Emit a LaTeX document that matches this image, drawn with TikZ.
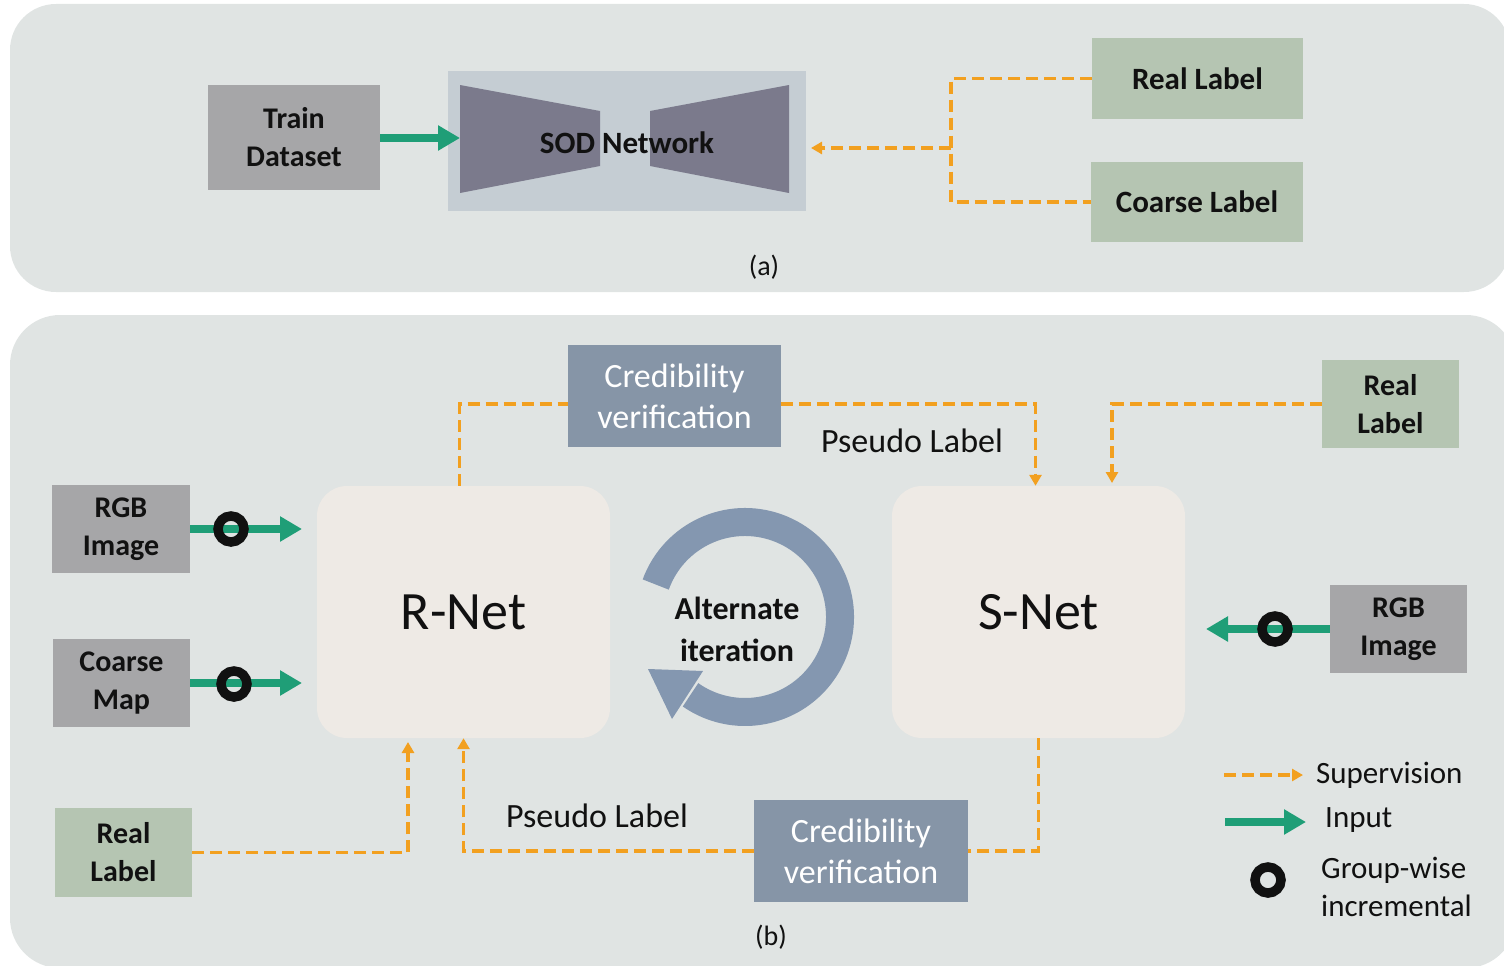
\documentclass[tikz,border=0pt]{standalone}
\usepackage{fontspec}
\setmainfont{Carlito}
\usetikzlibrary{arrows.meta}

\definecolor{panelbg}{RGB}{224,228,227}
\definecolor{graybox}{RGB}{166,166,168}
\definecolor{greenbox}{RGB}{181,197,178}
\definecolor{sodbg}{RGB}{197,205,211}
\definecolor{trapcol}{RGB}{123,122,140}
\definecolor{credcol}{RGB}{134,149,167}
\definecolor{netcol}{RGB}{238,234,229}
\definecolor{supcol}{RGB}{242,160,32}
\definecolor{inputcol}{RGB}{31,158,119}
\definecolor{loopcol}{RGB}{132,151,176}
\definecolor{ink}{RGB}{17,17,17}

\tikzset{
  panel/.style={fill=panelbg, rounded corners=46pt},
  boxbase/.style={inner sep=0pt, align=center, text=ink},
  graybx/.style={boxbase, fill=graybox},
  greenbx/.style={boxbase, fill=greenbox},
  credbx/.style={inner sep=0pt, align=center, fill=credcol, text=white,
    minimum width=213pt, minimum height=102pt,
    font=\fontsize{34}{41}\selectfont},
  netbx/.style={boxbase, fill=netcol, rounded corners=30pt,
    minimum width=293pt, minimum height=252pt,
    font=\fontsize{54}{60}\selectfont},
  boldA/.style={font=\fontsize{31}{38}\selectfont\bfseries},
  boldB/.style={font=\fontsize{30}{38}\selectfont\bfseries},
  plaintxt/.style={inner sep=0pt, text=ink, font=\fontsize{34}{40}\selectfont},
  legtxt/.style={inner sep=0pt, text=ink, align=left, font=\fontsize{31}{38}\selectfont},
  supdash/.style={draw=supcol, line width=3.5pt, dash pattern=on 12pt off 6pt},
  supline/.style={supdash, -{Triangle[length=11pt,width=12pt]}},
  inputline/.style={draw=inputcol, line width=8pt, -{Triangle[length=22pt,width=24pt]}},
  ringmark/.style={circle, draw=ink, line width=9.5pt, minimum size=26pt, inner sep=0pt},
}

\begin{document}
\begin{tikzpicture}[x=1pt, y=-1pt]
\useasboundingbox (0,0) rectangle (1504,966);

% ---------- panel (a) ----------
\fill[panel] (10,4) rectangle (1510,292);

\node[graybx, boldB, minimum width=172pt, minimum height=105pt] (train) at (294,137.5) {Train\\Dataset};

% encoder / decoder block
\node[fill=sodbg, minimum width=358pt, minimum height=140pt, inner sep=0pt] (sod) at (627,141) {};
\fill[trapcol] (460,85) -- (600,111) -- (600,166) -- (460,193) -- cycle;
\fill[trapcol] (650,111) -- (789,85) -- (789,193) -- (650,166) -- cycle;
\node[boldA, inner sep=0pt, text=ink] (sodtext) at (627,143) {SOD Network};

\node[greenbx, boldA, minimum width=211pt, minimum height=81pt] (realA) at (1197.5,78.5) {Real Label};
\node[greenbx, boldA, minimum width=212pt, minimum height=80pt] (coarseA) at (1197,202) {Coarse Label};

\coordinate (sodin) at (460,138);
\coordinate (sodout) at (811,148);
\coordinate (junc) at (951,148);
\draw[inputline] (train.east |- sodin) -- (sodin);
\draw[supdash] (realA.west) -| (junc) |- (coarseA.west);
\draw[supline] (junc) -- (sodout);

\node[inner sep=0pt, text=ink, font=\fontsize{28}{34}\selectfont] (capA) at (764,267) {(a)};

% ---------- panel (b) ----------
\fill[panel, rounded corners=50pt] (10,315) rectangle (1516,968);

\node[netbx] (rnet) at (463.5,612) {R-Net};
\node[netbx] (snet) at (1038.5,612) {S-Net};

\node[credbx] (credT) at (674.5,396) {Credibility\\verification};
\node[credbx, minimum width=214pt] (credB) at (861,851) {Credibility\\verification};

\node[plaintxt] (pseudoT) at (912,441) {Pseudo Label};
\node[plaintxt] (pseudoB) at (597,816) {Pseudo Label};

\node[greenbx, boldB, minimum width=137pt, minimum height=88pt] (realR) at (1390.5,404) {Real\\Label};
\node[greenbx, boldB, minimum width=137pt, minimum height=89pt] (realL) at (123.5,852.5) {Real\\Label};
\node[graybx, boldB, minimum width=138pt, minimum height=88pt] (rgbL) at (121,529) {RGB\\Image};
\node[graybx, boldB, minimum width=137pt, minimum height=88pt] (coarseM) at (121.5,683) {Coarse\\Map};
\node[graybx, boldB, minimum width=137pt, minimum height=88pt] (rgbR) at (1398.5,629) {RGB\\Image};

% supervision paths
\coordinate (snetin) at (1112,483);
\coordinate (rnetin) at (408,742);
\draw[supdash] ([xshift=-4pt]rnet.north) |- ([yshift=-8pt]credT.west);
\draw[supline] ([yshift=-8pt]credT.east) -| ([xshift=-3pt]snet.north);
\draw[supline] (realR.west) -| (snetin);
\draw[supdash] (snet.south) |- (credB.east);
\draw[supline] (credB.west) -| (rnet.south);
\draw[supline] (realL.east) -| (rnetin);

% inputs with group-wise incremental marks
\coordinate (rgbLtip) at (302,529);
\coordinate (coarseMtip) at (302,683);
\coordinate (rgbRtip) at (1206,629);
\draw[inputline] (rgbL.east) -- (rgbLtip);
\draw[inputline] (coarseM.east) -- (coarseMtip);
\draw[inputline] (rgbR.west) -- (rgbRtip);
\node[ringmark] (ringA) at (231,529) {};
\node[ringmark] (ringB) at (234,684) {};
\node[ringmark] (ringC) at (1275,629) {};

% alternate iteration loop
\begin{scope}[shift={(745,617)}, yscale=-1]
  \draw[loopcol, line width=28pt] (160:95) arc[start angle=160, end angle=-125, radius=95];
\end{scope}
\fill[loopcol] (648,669) -- (703,671) -- (672,719) -- cycle;
\node[inner sep=0pt, align=center, text=ink, font=\fontsize{32}{42}\selectfont\bfseries] (alt) at (737,629) {Alternate\\iteration};

\node[inner sep=0pt, text=ink, font=\fontsize{28}{34}\selectfont] (capB) at (771,937) {(b)};

% legend
\coordinate (lgA1) at (1224,775);
\coordinate (lgA2) at (1303,775);
\coordinate (lgB1) at (1225,822);
\coordinate (lgB2) at (1306,822);
\draw[supline] (lgA1) -- (lgA2);
\draw[inputline] (lgB1) -- (lgB2);
\node[ringmark] (lgring) at (1268,880) {};
\node[legtxt, anchor=west] (lgsup) at (1316,775) {Supervision};
\node[legtxt, anchor=west] (lginp) at (1325,820) {Input};
\node[legtxt, anchor=west] (lggrp) at (1321,887) {Group-wise\\incremental};
\end{tikzpicture}
\end{document}
